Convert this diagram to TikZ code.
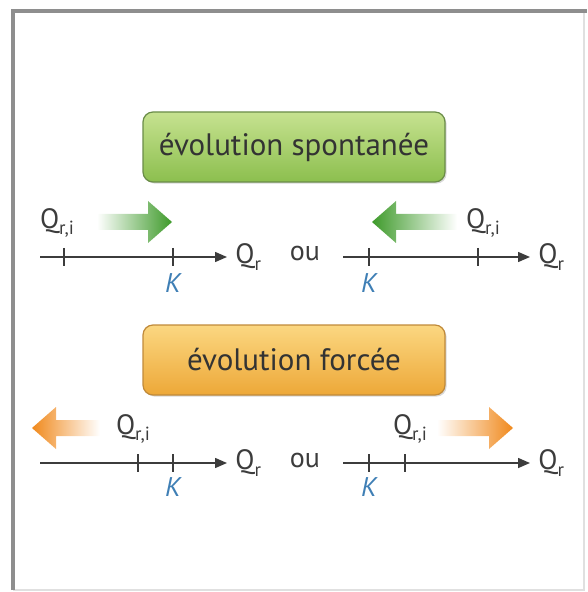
\documentclass[tikz,border=0pt]{standalone}
\usepackage{fontspec}
\setmainfont{PT Sans}
\usetikzlibrary{arrows.meta,positioning,shadows}

\definecolor{axisgray}{HTML}{3C3C3C}
\definecolor{kblue}{HTML}{3F7FB5}
\definecolor{framegray}{HTML}{8E8E8E}
\definecolor{spgreen}{HTML}{3E9A2A}
\definecolor{spgreenlight}{HTML}{C9E28C}
\definecolor{spboxtop}{HTML}{C6E290}
\definecolor{spboxbot}{HTML}{8CBF4E}
\definecolor{spboxline}{HTML}{6A8C48}
\definecolor{foorange}{HTML}{F0891C}
\definecolor{foorangelight}{HTML}{F9CB84}
\definecolor{foboxtop}{HTML}{FBD781}
\definecolor{foboxbot}{HTML}{EDA838}
\definecolor{foboxline}{HTML}{C08A3A}

\tikzset{
  titlebox/.style={draw, line width=0.6pt, rounded corners=5pt,
    minimum width=151pt, minimum height=35pt, text=black!80,
    font=\fontsize{15.5}{17}\selectfont,
    drop shadow={shadow xshift=0.8pt, shadow yshift=-0.8pt, opacity=0.3}},
  qaxis/.style={draw=axisgray, line width=0.75pt, -{Triangle[length=6pt,width=5pt]}},
  axistick/.style={draw=axisgray, line width=0.7pt},
  qlabel/.style={font=\fontsize{14}{16}\selectfont, text=axisgray, inner sep=1pt},
  klabel/.style={font=\fontsize{13.5}{16}\selectfont\itshape, text=kblue, inner sep=1pt},
}

% subscript of a quotient
\newcommand{\qsub}[1]{\raisebox{-0.45ex}{\fontsize{9.5}{10}\selectfont #1}}

% fat shaded arrow: tail x, tip x, y, shading
\newcommand{\fatarrow}[4]{%
  \pgfmathsetmacro\hb{#2-24*sign(#2-#1)}
  \shade[#4] (#1,#3-8) -- (\hb,#3-8) -- (\hb,#3-21) -- (#2,#3)
    -- (\hb,#3+21) -- (\hb,#3+8) -- (#1,#3+8) -- cycle;}

\begin{document}
\begin{tikzpicture}[x=0.5pt,y=-0.5pt]
\useasboundingbox (0,0) rectangle (587,592);
% frame
\draw[black!12, line width=0.6pt] (13,590) -- (584,590) -- (584,11);
\draw[framegray, line width=1.6pt] (13,590) -- (13,11) -- (587,11);

% titles
\node[titlebox, draw=spboxline, top color=spboxtop, bottom color=spboxbot] (spont) at (294,147) {évolution spontanée};
\node[titlebox, draw=foboxline, top color=foboxtop, bottom color=foboxbot] (force) at (294,360) {évolution forcée};

% axes
\foreach \y/\n in {257/s, 463/f} {
  \coordinate (\n-L0) at (40,\y);  \coordinate (\n-L1) at (227,\y);
  \coordinate (\n-R0) at (343,\y); \coordinate (\n-R1) at (530,\y);
  \draw[qaxis] (\n-L0) -- (\n-L1);
  \draw[qaxis] (\n-R0) -- (\n-R1);
  \node[qlabel, anchor=west, xshift=3pt] (\n-qL) at (\n-L1) {Q\qsub{r}};
  \node[qlabel, anchor=west, xshift=3pt] (\n-qR) at (\n-R1) {Q\qsub{r}};
  \node[qlabel] (\n-ou) at (305,\y-3) {ou};
}

% ticks
\coordinate (s-Li) at (64,257);  \coordinate (s-Lk) at (173,257);
\coordinate (s-Rk) at (369,257); \coordinate (s-Ri) at (478,257);
\coordinate (f-Li) at (138,463); \coordinate (f-Lk) at (173,463);
\coordinate (f-Rk) at (369,463); \coordinate (f-Ri) at (405,463);
\foreach \t in {s-Li,s-Lk,s-Rk,s-Ri,f-Li,f-Lk,f-Rk,f-Ri}
  \draw[axistick] (\t) ++(0,-9) -- ++(0,18);

% K labels
\node[klabel, below=7pt of s-Lk] (s-KL) {K};
\node[klabel, below=7pt of s-Rk] (s-KR) {K};
\node[klabel, below=6pt of f-Lk] (f-KL) {K};
\node[klabel, below=6pt of f-Rk] (f-KR) {K};

% initial quotients
\node[qlabel] (s-QL) at (57,223) {Q\qsub{r,i}};
\node[qlabel] (s-QR) at (483,223) {Q\qsub{r,i}};
\node[qlabel] (f-QL) at (133,429) {Q\qsub{r,i}};
\node[qlabel] (f-QR) at (410,429) {Q\qsub{r,i}};

% evolution arrows
\fatarrow{97}{172}{222}{left color=white, middle color=spgreenlight, right color=spgreen}
\fatarrow{457}{372}{222}{left color=spgreen, middle color=spgreenlight, right color=white}
\fatarrow{100}{32}{428}{left color=foorange, middle color=foorangelight, right color=white}
\fatarrow{437}{513}{428}{left color=white, middle color=foorangelight, right color=foorange}
\end{tikzpicture}
\end{document}
